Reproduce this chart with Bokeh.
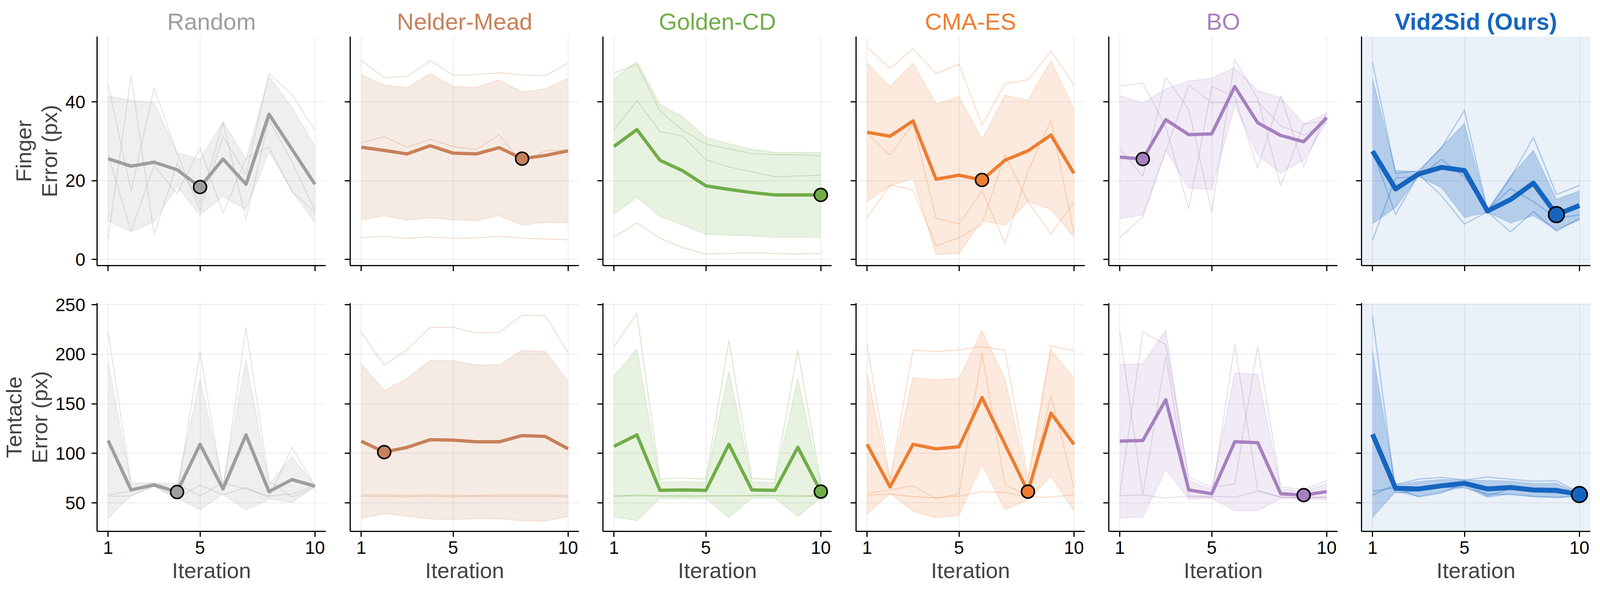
from bokeh.plotting import figure
from bokeh.layouts import row, column
from bokeh.models import FixedTicker, Range1d, CustomJSTickFormatter
from bokeh.embed import file_html
from bokeh.resources import INLINE

ITERATIONS = [1, 2, 3, 4, 5, 6, 7, 8, 9, 10]
X_TICKS = [1, 5, 10]
FINGER_TICKS = [0, 20, 40]
TENTACLE_TICKS = [50, 100, 150, 200, 250]

METHODS = ["Random", "Nelder-Mead", "Golden-CD", "CMA-ES", "BO", "Vid2Sid (Ours)"]
COLORS = ["#9E9E9E", "#C8805A", "#70AD47", "#ED7D31", "#A680BF", "#1565C0"]
ROW_LABELS = ["Finger\nError (px)", "Tentacle\nError (px)"]

# ---------------- Random ----------------
RANDOM_FINGER_MEAN = [25.6, 23.7, 24.7, 22.8, 18.4, 25.5, 19.1, 36.9, 28.0, 19.1]
RANDOM_FINGER_STD = [15.9, 16.7, 15.1, 4.3, 7.1, 9.5, 6.4, 9.5, 10.6, 9.7]
RANDOM_FINGER_RUN1 = [44.6, 17.3, 43.5, 27.0, 12.5, 31.3, 21.6, 47.2, 41.9, 32.8]
RANDOM_FINGER_RUN2 = [26.6, 7.2, 23.9, 16.7, 28.3, 11.7, 25.7, 28.5, 17.3, 12.0]
RANDOM_FINGER_RUN3 = [5.5, 46.6, 6.3, 24.4, 14.4, 34.8, 10.3, 35.5, 24.8, 12.5]
RANDOM_FINGER_BEST = 5

RANDOM_TENTACLE_MEAN = [112.9, 63.0, 68.2, 60.9, 109.1, 64.0, 118.6, 61.3, 73.5, 66.8]
RANDOM_TENTACLE_STD = [78.6, 5.4, 1.4, 6.0, 66.0, 4.9, 76.0, 7.6, 23.0, 0.6]
RANDOM_TENTACLE_RUN1 = [222.7, 70.0, 70.0, 69.0, 57.0, 70.0, 64.0, 57.0, 58.8, 67.5]
RANDOM_TENTACLE_RUN2 = [57.8, 62.0, 68.0, 59.0, 202.4, 64.0, 226.5, 72.0, 55.7, 66.0]
RANDOM_TENTACLE_RUN3 = [56.7, 57.0, 66.6, 54.7, 67.8, 58.0, 65.5, 55.0, 106.0, 66.8]
RANDOM_TENTACLE_BEST = 4

# ---------------- Nelder-Mead ----------------
NM_FINGER_MEAN = [28.5, 27.7, 26.8, 28.9, 27.0, 26.8, 28.4, 25.6, 26.4, 27.6]
NM_FINGER_STD = [18.4, 16.6, 16.8, 18.3, 16.9, 16.9, 17.2, 16.9, 16.9, 18.3]
NM_FINGER_RUN1 = [50.6, 46.1, 46.5, 50.5, 46.8, 46.9, 47.4, 46.9, 46.6, 49.9]
NM_FINGER_RUN2 = [29.7, 31.2, 28.5, 30.5, 28.7, 27.9, 31.6, 24.6, 27.6, 27.8]
NM_FINGER_RUN3 = [5.5, 5.9, 5.4, 5.7, 5.4, 5.5, 5.9, 5.4, 5.2, 5.0]
NM_FINGER_BEST = 8

NM_TENTACLE_MEAN = [112.3, 101.2, 106.0, 113.7, 113.3, 111.6, 111.6, 117.9, 117.1, 104.5]
NM_TENTACLE_STD = [77.9, 62.2, 69.5, 80.1, 80.1, 77.6, 77.7, 86.0, 85.6, 68.2]
NM_TENTACLE_RUN1 = [222.3, 189.2, 204.5, 227.1, 227.1, 221.7, 221.9, 239.5, 238.7, 201.8]
NM_TENTACLE_RUN2 = [58.0, 58.0, 57.5, 58.0, 57.5, 57.5, 58.0, 58.0, 58.0, 57.5]
NM_TENTACLE_RUN3 = [56.5, 56.5, 56.0, 56.5, 56.0, 56.5, 56.5, 56.5, 56.5, 56.0]
NM_TENTACLE_BEST = 2

# ---------------- Golden-CD ----------------
GCD_FINGER_MEAN = [28.7, 33.0, 25.2, 22.5, 18.7, 17.8, 17.0, 16.4, 16.4, 16.4]
GCD_FINGER_STD = [17.2, 17.2, 14.2, 13.7, 12.3, 11.6, 11.0, 10.8, 10.8, 10.7]
GCD_FINGER_RUN1 = [47.3, 49.6, 37.7, 32.8, 29.3, 28.1, 26.9, 26.6, 26.6, 26.3]
GCD_FINGER_RUN2 = [32.9, 40.3, 32.5, 31.3, 25.3, 23.5, 22.3, 21.0, 21.2, 21.4]
GCD_FINGER_RUN3 = [5.7, 9.3, 5.4, 3.0, 1.4, 1.5, 1.7, 1.5, 1.4, 1.5]
GCD_FINGER_BEST = 10

GCD_TENTACLE_MEAN = [107.0, 118.6, 62.6, 63.0, 62.6, 109.1, 63.0, 62.6, 106.0, 61.3]
GCD_TENTACLE_STD = [70.9, 86.6, 8.0, 8.5, 8.0, 73.7, 8.2, 7.8, 69.5, 6.1]
GCD_TENTACLE_RUN1 = [207.7, 240.8, 73.9, 75.2, 73.9, 213.5, 74.5, 73.5, 204.5, 70.0]
GCD_TENTACLE_RUN2 = [57.0, 57.0, 57.0, 57.5, 57.0, 57.0, 57.0, 57.0, 56.0, 58.0]
GCD_TENTACLE_RUN3 = [56.5, 58.0, 57.0, 56.5, 57.0, 57.0, 57.5, 57.5, 57.5, 56.0]
GCD_TENTACLE_BEST = 10

# ---------------- CMA-ES ----------------
CMA_FINGER_MEAN = [32.3, 31.3, 35.2, 20.4, 21.4, 20.2, 25.2, 27.6, 31.6, 21.9]
CMA_FINGER_STD = [17.6, 12.6, 14.6, 19.1, 19.9, 10.3, 16.5, 12.8, 18.9, 16.2]
CMA_FINGER_RUN1 = [53.9, 48.5, 53.5, 47.2, 49.6, 34.1, 44.7, 45.6, 52.9, 44.4]
CMA_FINGER_RUN2 = [32.0, 26.5, 34.4, 10.5, 9.0, 17.5, 4.1, 22.5, 35.3, 6.7]
CMA_FINGER_RUN3 = [10.6, 18.9, 17.7, 3.5, 5.5, 9.0, 26.6, 14.7, 6.5, 14.5]
CMA_FINGER_BEST = 6

CMA_TENTACLE_MEAN = [109.1, 66.1, 109.1, 104.5, 106.6, 156.3, 109.0, 61.3, 140.6, 109.1]
CMA_TENTACLE_STD = [70.7, 6.4, 67.4, 69.6, 69.2, 67.6, 65.9, 8.5, 63.6, 66.8]
CMA_TENTACLE_RUN1 = [209.3, 73.9, 204.5, 202.4, 204.5, 207.7, 203.9, 74.5, 208.5, 203.5]
CMA_TENTACLE_RUN2 = [59.9, 63.0, 67.2, 54.6, 58.8, 201.4, 68.2, 57.1, 158.4, 65.5]
CMA_TENTACLE_RUN3 = [57.8, 58.8, 56.3, 55.0, 56.7, 61.3, 60.5, 55.7, 55.7, 58.4]
CMA_TENTACLE_BEST = 8

# ---------------- BO ----------------
BO_FINGER_MEAN = [26.0, 25.5, 35.5, 31.7, 31.9, 43.9, 34.7, 31.5, 29.9, 36.0]
BO_FINGER_STD = [15.6, 14.2, 7.8, 13.6, 14.1, 4.8, 8.2, 9.5, 4.6, 1.1]
BO_FINGER_RUN1 = [44.1, 44.8, 33.7, 12.9, 43.9, 41.3, 23.2, 41.6, 23.5, 37.5]
BO_FINGER_RUN2 = [28.1, 21.1, 46.2, 38.1, 12.1, 50.7, 40.8, 18.7, 34.3, 35.3]
BO_FINGER_RUN3 = [5.6, 10.8, 27.5, 44.3, 39.8, 39.9, 40.1, 34.0, 31.6, 34.8]
BO_FINGER_BEST = 2

BO_TENTACLE_MEAN = [112.3, 112.9, 154.2, 63.0, 59.2, 111.6, 110.8, 59.2, 57.8, 61.3]
BO_TENTACLE_STD = [77.5, 77.4, 70.5, 9.2, 4.4, 69.6, 68.8, 4.9, 3.9, 7.9]
BO_TENTACLE_RUN1 = [221.9, 58.4, 198.2, 56.0, 55.7, 209.7, 62.6, 55.8, 55.0, 55.8]
BO_TENTACLE_RUN2 = [57.8, 222.3, 209.7, 76.0, 65.5, 69.3, 208.1, 66.1, 63.4, 72.4]
BO_TENTACLE_RUN3 = [57.2, 58.0, 54.7, 57.0, 56.5, 55.7, 61.7, 55.7, 55.4, 55.7]
BO_TENTACLE_BEST = 9

# ---------------- Vid2Sid (Ours) ----------------
V2S_FINGER_MEAN = [27.5, 17.9, 21.7, 23.4, 22.6, 12.3, 15.2, 19.4, 11.4, 13.7]
V2S_FINGER_STD = [18.4, 4.7, 0.6, 5.2, 11.9, 0.3, 5.9, 8.3, 3.9, 3.7]
V2S_FINGER_RUN1 = [50.0, 21.9, 22.5, 28.4, 37.9, 12.5, 18.0, 14.7, 10.5, 11.3]
V2S_FINGER_RUN2 = [4.9, 20.7, 21.0, 25.4, 21.0, 12.3, 20.7, 31.0, 16.5, 18.8]
V2S_FINGER_RUN3 = [27.6, 11.4, 21.7, 16.2, 9.0, 12.1, 7.0, 12.2, 7.2, 10.5]
V2S_FINGER_BEST = 9

V2S_TENTACLE_MEAN = [119.2, 64.7, 64.0, 67.2, 69.7, 64.0, 65.5, 63.0, 62.6, 58.4]
V2S_TENTACLE_STD = [84.0, 3.4, 7.5, 6.4, 3.3, 8.5, 6.4, 6.5, 7.2, 1.3]
V2S_TENTACLE_RUN1 = [238.0, 60.3, 62.0, 66.0, 65.1, 59.0, 58.4, 56.3, 55.4, 56.8]
V2S_TENTACLE_RUN2 = [57.8, 68.5, 74.0, 75.6, 73.0, 76.0, 73.9, 71.8, 72.4, 60.0]
V2S_TENTACLE_RUN3 = [61.8, 65.3, 56.0, 60.0, 70.3, 57.0, 64.2, 61.0, 60.0, 58.4]
V2S_TENTACLE_BEST = 10

FINGER = [
    (RANDOM_FINGER_MEAN, RANDOM_FINGER_STD, [RANDOM_FINGER_RUN1, RANDOM_FINGER_RUN2, RANDOM_FINGER_RUN3], RANDOM_FINGER_BEST),
    (NM_FINGER_MEAN, NM_FINGER_STD, [NM_FINGER_RUN1, NM_FINGER_RUN2, NM_FINGER_RUN3], NM_FINGER_BEST),
    (GCD_FINGER_MEAN, GCD_FINGER_STD, [GCD_FINGER_RUN1, GCD_FINGER_RUN2, GCD_FINGER_RUN3], GCD_FINGER_BEST),
    (CMA_FINGER_MEAN, CMA_FINGER_STD, [CMA_FINGER_RUN1, CMA_FINGER_RUN2, CMA_FINGER_RUN3], CMA_FINGER_BEST),
    (BO_FINGER_MEAN, BO_FINGER_STD, [BO_FINGER_RUN1, BO_FINGER_RUN2, BO_FINGER_RUN3], BO_FINGER_BEST),
    (V2S_FINGER_MEAN, V2S_FINGER_STD, [V2S_FINGER_RUN1, V2S_FINGER_RUN2, V2S_FINGER_RUN3], V2S_FINGER_BEST),
]
TENTACLE = [
    (RANDOM_TENTACLE_MEAN, RANDOM_TENTACLE_STD, [RANDOM_TENTACLE_RUN1, RANDOM_TENTACLE_RUN2, RANDOM_TENTACLE_RUN3], RANDOM_TENTACLE_BEST),
    (NM_TENTACLE_MEAN, NM_TENTACLE_STD, [NM_TENTACLE_RUN1, NM_TENTACLE_RUN2, NM_TENTACLE_RUN3], NM_TENTACLE_BEST),
    (GCD_TENTACLE_MEAN, GCD_TENTACLE_STD, [GCD_TENTACLE_RUN1, GCD_TENTACLE_RUN2, GCD_TENTACLE_RUN3], GCD_TENTACLE_BEST),
    (CMA_TENTACLE_MEAN, CMA_TENTACLE_STD, [CMA_TENTACLE_RUN1, CMA_TENTACLE_RUN2, CMA_TENTACLE_RUN3], CMA_TENTACLE_BEST),
    (BO_TENTACLE_MEAN, BO_TENTACLE_STD, [BO_TENTACLE_RUN1, BO_TENTACLE_RUN2, BO_TENTACLE_RUN3], BO_TENTACLE_BEST),
    (V2S_TENTACLE_MEAN, V2S_TENTACLE_STD, [V2S_TENTACLE_RUN1, V2S_TENTACLE_RUN2, V2S_TENTACLE_RUN3], V2S_TENTACLE_BEST),
]

# geometry fitted to the visible page area (about 4100 x 1545 CSS px)
FONT = "Liberation Sans"
FRAME_W = 586
LEFT_BORDERS = [248, 62, 61, 62, 61, 61]
RIGHT_BORDERS = [0, 0, 0, 0, 0, 8]
TICK_FONT = "46px"
LABEL_FONT = "56px"
TITLE_FONT = "60px"


def style_axis(ax, show_labels):
    ax.axis_line_color = "black"
    ax.axis_line_width = 3
    ax.major_tick_line_color = "black"
    ax.major_tick_line_width = 3
    ax.major_tick_out = 14
    ax.major_tick_in = 0
    ax.minor_tick_line_color = None
    ax.major_label_text_font = FONT
    ax.major_label_text_color = "black"
    if show_labels:
        ax.major_label_text_font_size = TICK_FONT
    else:
        ax.formatter = CustomJSTickFormatter(code="return ''")
        ax.major_label_text_font_size = "2px"
        ax.major_label_standoff = 0


def panel(ci, ri):
    color = COLORS[ci]
    ours = ci == 5
    mean, std, runs, best = (FINGER if ri == 0 else TENTACLE)[ci]
    lower = [m - s for m, s in zip(mean, std)]
    upper = [m + s for m, s in zip(mean, std)]

    if ri == 0:
        yr = Range1d(-1.54, 56.6)
        fh = 586
        bt, bb = 93, 45
        yticks = FINGER_TICKS
    else:
        yr = Range1d(21.2, 251.6)
        fh = 584
        bt, bb = 51, 160
        yticks = TENTACLE_TICKS

    p = figure(
        frame_width=FRAME_W, frame_height=fh,
        x_range=Range1d(0.52, 10.48), y_range=yr,
        toolbar_location=None, output_backend="svg",
        min_border_left=LEFT_BORDERS[ci], min_border_right=RIGHT_BORDERS[ci],
        min_border_top=bt, min_border_bottom=bb,
        background_fill_color="#EAF1F9" if ours else "white",
        border_fill_color="white", outline_line_color=None,
        title=METHODS[ci] if ri == 0 else None,
    )
    if ri == 0:
        p.title.align = "center"
        p.title.text_font = FONT
        p.title.text_font_size = TITLE_FONT
        p.title.text_color = color
        p.title.text_font_style = "bold" if ours else "normal"
        p.title.standoff = 10

    p.xaxis.ticker = FixedTicker(ticks=X_TICKS)
    p.yaxis.ticker = FixedTicker(ticks=yticks)
    style_axis(p.xaxis[0], ri == 1)
    style_axis(p.yaxis[0], ci == 0)
    if ri == 1:
        p.xaxis.axis_label = "Iteration"
        p.xaxis.major_label_standoff = 11
        p.xaxis.axis_label_standoff = 8
        p.xaxis.axis_label_text_font = FONT
        p.xaxis.axis_label_text_font_size = LABEL_FONT
        p.xaxis.axis_label_text_font_style = "normal"
    if ci == 0:
        p.yaxis.axis_label = ROW_LABELS[ri]
        p.yaxis.major_label_standoff = 16
        p.yaxis.axis_label_standoff = 6
        p.yaxis.axis_label_text_font = FONT
        p.yaxis.axis_label_text_font_size = LABEL_FONT
        p.yaxis.axis_label_text_font_style = "normal"
        p.yaxis.axis_label_text_line_height = 1.05

    for g in (p.xgrid, p.ygrid):
        g.grid_line_color = "#000000"
        g.grid_line_alpha = 0.08
        g.grid_line_width = 2

    band_alpha = 0.25 if ours else 0.16
    run_alpha = 0.3 if ours else 0.28
    p.varea(x=ITERATIONS, y1=lower, y2=upper, fill_color=color, fill_alpha=band_alpha)
    p.line(ITERATIONS, upper, line_color=color, line_alpha=0.15, line_width=3, line_join="round")
    p.line(ITERATIONS, lower, line_color=color, line_alpha=0.15, line_width=3, line_join="round")
    for r in runs:
        p.line(ITERATIONS, r, line_color=color, line_alpha=run_alpha,
               line_width=3 if ours else 2.5, line_join="round")
    p.line(ITERATIONS, mean, line_color=color, line_width=12.5 if ours else 8.5, line_join="round")
    p.scatter([best], [mean[best - 1]], marker="circle", size=40 if ours else 33,
              fill_color=color, line_color="black", line_width=4)
    return p


top = row(*[panel(ci, 0) for ci in range(6)])
bottom = row(*[panel(ci, 1) for ci in range(6)])
layout = column(top, bottom)

open("out.html", "w").write(file_html(layout, INLINE))
